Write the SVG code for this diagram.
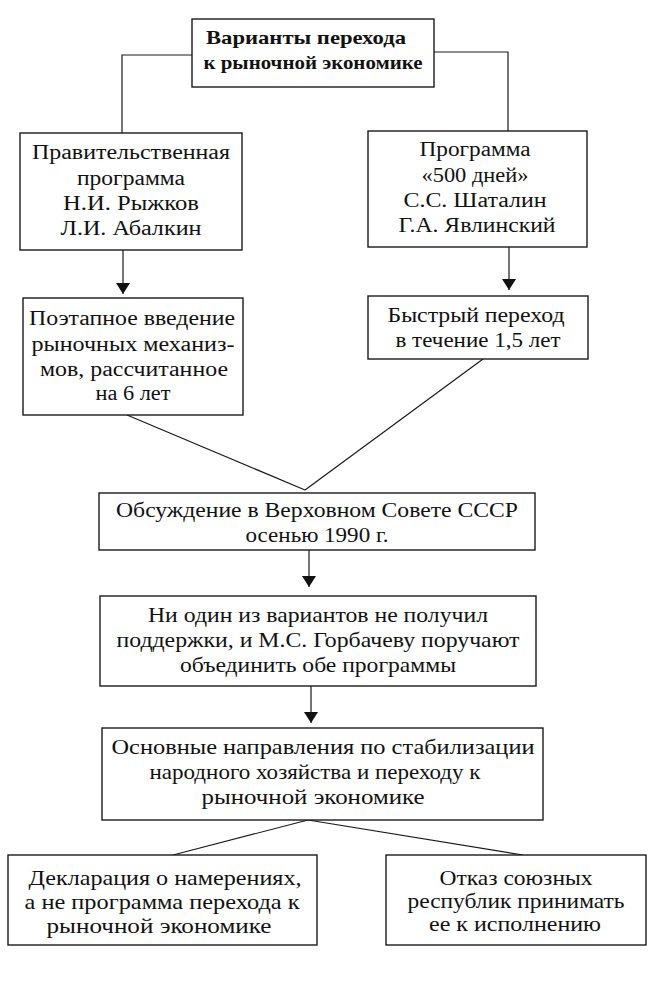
<svg xmlns="http://www.w3.org/2000/svg" width="672" height="1007" viewBox="0 0 672 1007">
<style>
  .box { fill: #ffffff; stroke: #1a1a1a; stroke-width: 1.4; }
  .t { font-family: "Liberation Serif", "Times New Roman", serif; font-size: 20px; fill: #111; text-anchor: middle; }
  .tm { font-family: "Liberation Serif", "Times New Roman", serif; font-size: 21px; fill: #111; text-anchor: middle; }
  .tb { font-family: "Liberation Serif", "Times New Roman", serif; font-size: 19.5px; font-weight: bold; fill: #111; text-anchor: middle; }
  .ln { fill: none; stroke: #1a1a1a; stroke-width: 1.2; }
</style>
<defs>
  <marker id="arr" viewBox="0 0 11 14" refX="11" refY="7" markerWidth="11" markerHeight="14" markerUnits="userSpaceOnUse" orient="auto">
    <path d="M0,0 L11,7 L0,14 z" fill="#111"/>
  </marker>
</defs>
<rect width="672" height="1007" fill="#ffffff"/>

<g id="connectors">
  <polyline class="ln" points="192,55 122,55 122,133"/>
  <polyline class="ln" points="434,52 508,52 508,131"/>
  <line class="ln" x1="123" y1="250" x2="123" y2="294" marker-end="url(#arr)"/>
  <line class="ln" x1="509" y1="247" x2="509" y2="290" marker-end="url(#arr)"/>
  <line class="ln" x1="127" y1="415" x2="305" y2="490"/>
  <line class="ln" x1="483" y1="359" x2="305" y2="490"/>
  <line class="ln" x1="309" y1="550" x2="309" y2="587" marker-end="url(#arr)"/>
  <line class="ln" x1="311" y1="686" x2="311" y2="723" marker-end="url(#arr)"/>
  <line class="ln" x1="308" y1="820" x2="173" y2="855"/>
  <line class="ln" x1="308" y1="820" x2="523" y2="855"/>
</g>

<g id="node-top">
  <rect class="box" x="192" y="19" width="242" height="68"/>
  <text class="tb" x="306" y="44" textLength="200" lengthAdjust="spacingAndGlyphs">Варианты перехода</text>
  <text class="tb" x="313" y="69" textLength="219" lengthAdjust="spacingAndGlyphs">к рыночной экономике</text>
</g>

<g id="node-gov">
  <rect class="box" x="20" y="133" width="222" height="117"/>
  <text class="t" x="131" y="159" textLength="198" lengthAdjust="spacingAndGlyphs">Правительственная</text>
  <text class="t" x="131" y="185" textLength="108" lengthAdjust="spacingAndGlyphs">программа</text>
  <text class="t" x="131" y="210" textLength="136" lengthAdjust="spacingAndGlyphs">Н.И. Рыжков</text>
  <text class="t" x="131" y="235" textLength="141" lengthAdjust="spacingAndGlyphs">Л.И. Абалкин</text>
</g>

<g id="node-500">
  <rect class="box" x="368" y="131" width="219" height="116"/>
  <text class="t" x="475" y="156" textLength="111" lengthAdjust="spacingAndGlyphs">Программа</text>
  <text class="t" x="475" y="182" textLength="107" lengthAdjust="spacingAndGlyphs">«500 дней»</text>
  <text class="t" x="475" y="207" textLength="143" lengthAdjust="spacingAndGlyphs">С.С. Шаталин</text>
  <text class="t" x="477" y="232" textLength="157" lengthAdjust="spacingAndGlyphs">Г.А. Явлинский</text>
</g>

<g id="node-gradual">
  <rect class="box" x="23" y="298" width="220" height="117"/>
  <text class="t" x="132" y="325" textLength="206" lengthAdjust="spacingAndGlyphs">Поэтапное введение</text>
  <text class="t" x="133" y="351" textLength="203" lengthAdjust="spacingAndGlyphs">рыночных механиз-</text>
  <text class="t" x="134" y="376" textLength="188" lengthAdjust="spacingAndGlyphs">мов, рассчитанное</text>
  <text class="t" x="133" y="400" textLength="75" lengthAdjust="spacingAndGlyphs">на 6 лет</text>
</g>

<g id="node-fast">
  <rect class="box" x="368" y="296" width="220" height="63"/>
  <text class="t" x="476" y="322" textLength="177" lengthAdjust="spacingAndGlyphs">Быстрый переход</text>
  <text class="t" x="478" y="347" textLength="165" lengthAdjust="spacingAndGlyphs">в течение 1,5 лет</text>
</g>

<g id="node-discussion">
  <rect class="box" x="99" y="493" width="436" height="57"/>
  <text class="tm" x="317" y="517" textLength="402" lengthAdjust="spacingAndGlyphs">Обсуждение в Верховном Совете СССР</text>
  <text class="tm" x="317" y="542" textLength="143" lengthAdjust="spacingAndGlyphs">осенью 1990 г.</text>
</g>

<g id="node-none">
  <rect class="box" x="100" y="596" width="436" height="90"/>
  <text class="tm" x="318" y="622" textLength="340" lengthAdjust="spacingAndGlyphs">Ни один из вариантов не получил</text>
  <text class="tm" x="318" y="647" textLength="403" lengthAdjust="spacingAndGlyphs">поддержки, и М.С. Горбачеву поручают</text>
  <text class="tm" x="318" y="672" textLength="276" lengthAdjust="spacingAndGlyphs">объединить обе программы</text>
</g>

<g id="node-main">
  <rect class="box" x="102" y="728" width="441" height="92"/>
  <text class="tm" x="323" y="754" textLength="423" lengthAdjust="spacingAndGlyphs">Основные направления по стабилизации</text>
  <text class="tm" x="315" y="779" textLength="331" lengthAdjust="spacingAndGlyphs">народного хозяйства и переходу к</text>
  <text class="tm" x="313" y="804" textLength="223" lengthAdjust="spacingAndGlyphs">рыночной экономике</text>
</g>

<g id="node-declaration">
  <rect class="box" x="8" y="855" width="309" height="90"/>
  <text class="tm" x="165" y="885" textLength="273" lengthAdjust="spacingAndGlyphs">Декларация о намерениях,</text>
  <text class="tm" x="162" y="909" textLength="275" lengthAdjust="spacingAndGlyphs">а не программа перехода к</text>
  <text class="tm" x="159" y="933" textLength="225" lengthAdjust="spacingAndGlyphs">рыночной экономике</text>
</g>

<g id="node-refusal">
  <rect class="box" x="386" y="855" width="260" height="90"/>
  <text class="tm" x="516" y="885" textLength="153" lengthAdjust="spacingAndGlyphs">Отказ союзных</text>
  <text class="tm" x="516" y="908" textLength="217" lengthAdjust="spacingAndGlyphs">республик принимать</text>
  <text class="tm" x="515" y="931" textLength="172" lengthAdjust="spacingAndGlyphs">ее к исполнению</text>
</g>
</svg>
